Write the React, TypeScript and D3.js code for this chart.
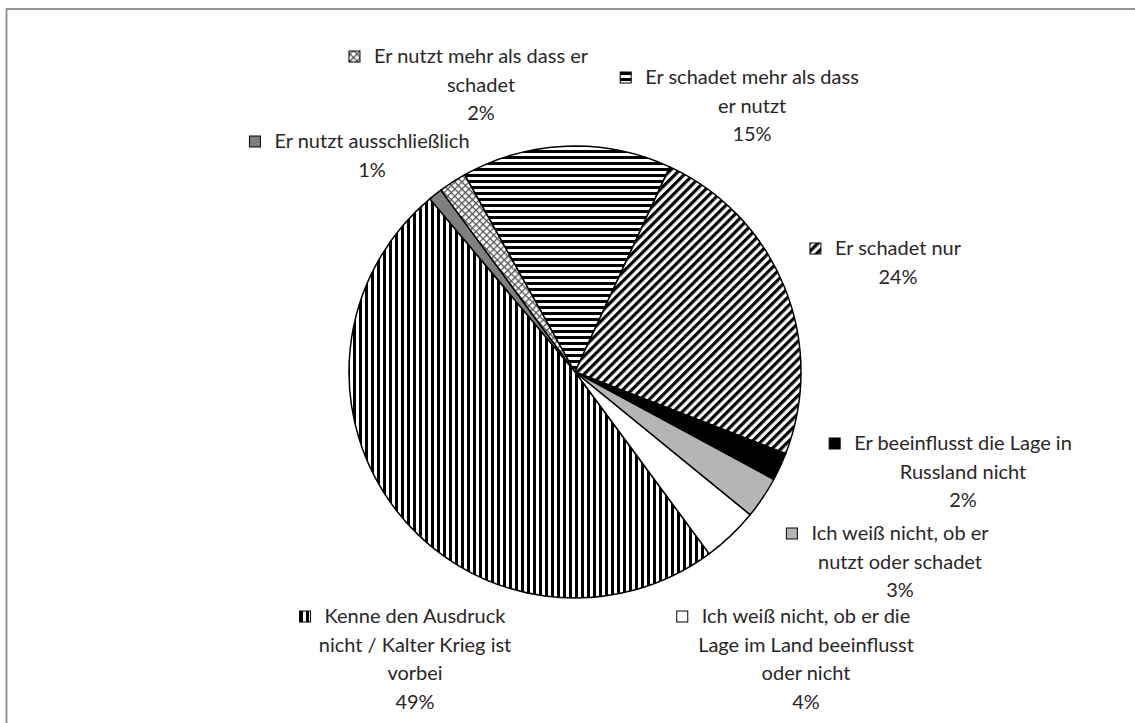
import React, { useEffect, useRef } from "react";
import * as d3 from "d3";

const categories: string[][] = [
  ["Er nutzt ausschließlich"],
  ["Er nutzt mehr als dass er", "schadet"],
  ["Er schadet mehr als dass", "er nutzt"],
  ["Er schadet nur"],
  ["Er beeinflusst die Lage in", "Russland nicht"],
  ["Ich weiß nicht, ob er", "nutzt oder schadet"],
  ["Ich weiß nicht, ob er die", "Lage im Land beeinflusst", "oder nicht"],
  ["Kenne den Ausdruck", "nicht / Kalter Krieg ist", "vorbei"],
];
const values: number[] = [1, 2, 15, 24, 2, 3, 4, 49];
const fills: string[] = [
  "#7f7f80",
  "url(#pCross)",
  "url(#pHoriz)",
  "url(#pDiag)",
  "#000000",
  "#b3b5b7",
  "#ffffff",
  "url(#pVert)",
];
// label anchor: center x of text block, baseline of first line
const labelPos: { cx: number; y: number }[] = [
  { cx: 372, y: 148 },
  { cx: 481, y: 63 },
  { cx: 752, y: 84 },
  { cx: 898, y: 255 },
  { cx: 963, y: 450 },
  { cx: 900, y: 540 },
  { cx: 806, y: 623 },
  { cx: 415, y: 623 },
];

const W = 1135;
const H = 723;
const CX = 575;
const CY = 372;
const R = 226;
const START = (-40 * Math.PI) / 180;
const FONT = "Lato, 'Open Sans', sans-serif";
const FS = 20;
const LH = 28.5;

export default function App() {
  const ref = useRef<SVGSVGElement>(null);

  useEffect(() => {
    const svg = d3.select(ref.current);
    svg.selectAll("*").remove();

    const defs = svg.append("defs");
    const pv = defs
      .append("pattern")
      .attr("id", "pVert")
      .attr("patternUnits", "userSpaceOnUse")
      .attr("width", 6)
      .attr("height", 6);
    pv.append("rect").attr("width", 6).attr("height", 6).attr("fill", "#fff");
    pv.append("rect").attr("width", 3).attr("height", 6).attr("fill", "#000");

    const ph = defs
      .append("pattern")
      .attr("id", "pHoriz")
      .attr("patternUnits", "userSpaceOnUse")
      .attr("width", 6)
      .attr("height", 6);
    ph.append("rect").attr("width", 6).attr("height", 6).attr("fill", "#fff");
    ph.append("rect").attr("width", 6).attr("height", 3).attr("fill", "#000");

    const pd = defs
      .append("pattern")
      .attr("id", "pDiag")
      .attr("patternUnits", "userSpaceOnUse")
      .attr("width", 6.4)
      .attr("height", 6.4)
      .attr("patternTransform", "rotate(45)");
    pd.append("rect").attr("width", 6.4).attr("height", 6.4).attr("fill", "#fff");
    pd.append("rect").attr("width", 3.2).attr("height", 6.4).attr("fill", "#000");

    const pc = defs
      .append("pattern")
      .attr("id", "pCross")
      .attr("patternUnits", "userSpaceOnUse")
      .attr("width", 5)
      .attr("height", 5)
      .attr("patternTransform", "rotate(45)");
    pc.append("rect").attr("width", 5).attr("height", 5).attr("fill", "#fff");
    pc.append("rect").attr("width", 5).attr("height", 1.3).attr("fill", "#555");
    pc.append("rect").attr("width", 1.3).attr("height", 5).attr("fill", "#555");

    // outer border
    svg
      .append("rect")
      .attr("x", 6.5)
      .attr("y", 9)
      .attr("width", W + 50)
      .attr("height", H + 50)
      .attr("fill", "none")
      .attr("stroke", "#8c8c8c")
      .attr("stroke-width", 1.8);

    const pie = d3
      .pie<number>()
      .sort(null)
      .value((d) => d)
      .startAngle(START)
      .endAngle(START + 2 * Math.PI);
    const arcs = pie(values);
    const arc = d3.arc<d3.PieArcDatum<number>>().innerRadius(0).outerRadius(R);

    const g = svg.append("g").attr("transform", `translate(${CX},${CY})`);
    g.selectAll("path")
      .data(arcs)
      .join("path")
      .attr("d", arc)
      .attr("fill", (_d, i) => fills[i])
      .attr("stroke", "#000")
      .attr("stroke-width", 1.5)
      .attr("stroke-linejoin", "round");

    // labels
    categories.forEach((lines, i) => {
      const pos = labelPos[i];
      const all = [...lines, `${values[i]}%`];
      const lg = svg.append("g");
      let firstW = 0;
      all.forEach((t, j) => {
        const tx = lg
          .append("text")
          .attr("x", pos.cx)
          .attr("y", pos.y + j * LH)
          .attr("text-anchor", "middle")
          .attr("font-family", FONT)
          .attr("font-size", FS)
          .attr("fill", "#2a2627")
          .text(t);
        if (j === 0) {
          firstW = (tx.node() as SVGTextElement).getComputedTextLength();
        }
      });
      const ks = 11;
      const kx = pos.cx - firstW / 2 - 14 - ks;
      lg.append("rect")
        .attr("x", kx)
        .attr("y", pos.y - 12)
        .attr("width", ks)
        .attr("height", ks)
        .attr("fill", fills[i])
        .attr("stroke", "#000")
        .attr("stroke-width", 1);
    });
  }, []);

  return (
    <svg
      ref={ref}
      width={W}
      height={H}
      style={{ position: "absolute", left: 0, top: 0, background: "#fff" }}
    />
  );
}
